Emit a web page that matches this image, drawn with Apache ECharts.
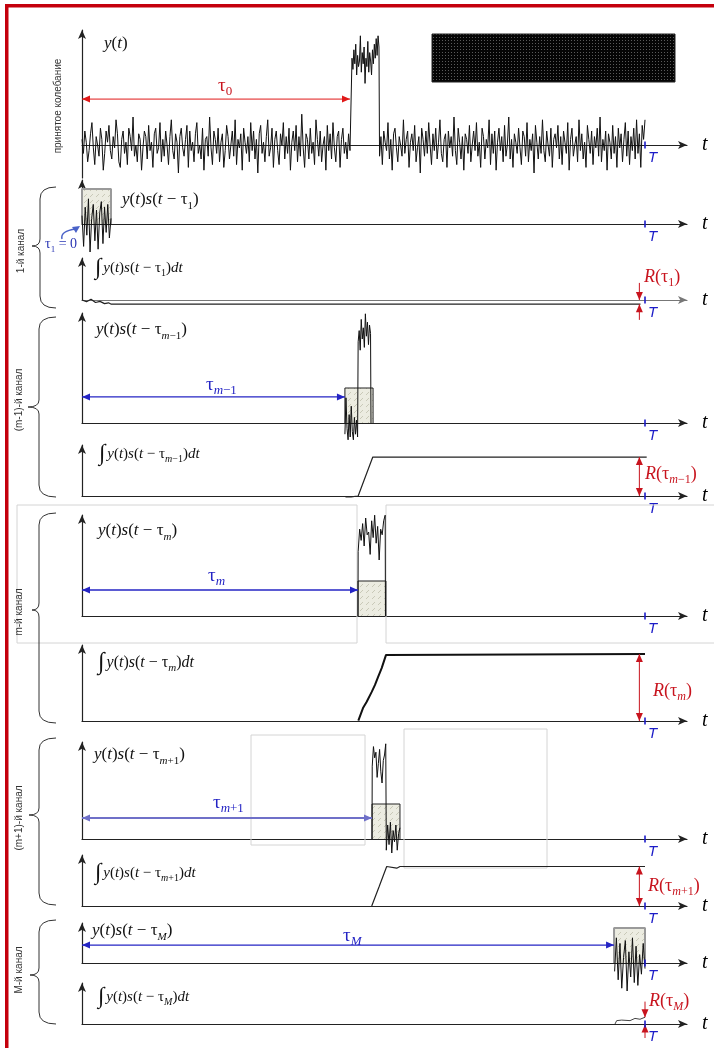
<!DOCTYPE html>
<html><head><meta charset="utf-8">
<script src="https://cdn.jsdelivr.net/npm/echarts@6/dist/echarts.min.js"></script>
<style>html,body{margin:0;padding:0;background:#fff}#c{width:714px;height:1048px}</style>
</head><body><div id="c"></div>
<script>
// ---------------- data ----------------
// received oscillation y(t): noise, signal pulse, noise
const topNoiseBefore = [0.2,-0.3,0.5,0.1,-0.6,-0.2,0.4,0.8,-0.1,-0.7,0.3,0.0,-0.4,0.6,0.2,-0.9,-0.3,0.5,0.1,0.7,
-0.2,-0.5,0.3,-0.1,0.9,0.4,-0.6,-0.8,0.2,0.5,-0.3,0.1,-0.7,0.6,0.3,-0.2,1.0,-0.4,0.0,-0.6,
0.4,0.2,-0.9,-0.1,0.5,0.3,-0.5,0.7,-0.2,0.1,-0.8,0.4,0.6,-0.3,-0.1,0.8,-0.6,0.2,-0.4,0.5,
0.0,-0.7,0.3,0.9,-0.2,-0.5,0.4,0.1,-1.0,0.3,0.6,-0.1,-0.4,0.2,0.7,-0.8,0.5,-0.2,0.1,-0.6,
0.4,0.8,-0.3,0.0,-0.5,0.6,-0.9,0.2,0.3,-0.4,1.0,-0.1,-0.7,0.5,0.2,-0.3,0.6,-0.6,0.1,0.4,
-0.8,-0.2,0.7,0.3,-0.5,0.0,0.5,-0.4,0.9,-0.7,0.2,-0.1,0.4,-0.9,0.6,0.1,-0.3,0.3,-0.6,0.8,
-0.2,0.5,-0.5,0.2,-1.0,0.4,0.7,-0.3,0.1,-0.6,0.3,0.9,-0.4,-0.1,0.6,-0.8,0.2,0.5,-0.2,-0.7,
0.4,0.0,0.8,-0.5,0.3,-0.3,0.6,-0.9,0.1,0.5,-0.2,0.7,-0.6,0.3,-0.4,1.1,-0.1,-0.8,0.4,0.2,
-0.5,0.6,-0.3,0.1,-0.7,0.9,0.2,-0.4,0.5,-0.6,0.0,0.3,-0.9,0.7,-0.2,0.4,-0.5,0.8,-0.1,-0.6,
0.3,0.5,-0.8,0.2,0.6,-0.3,0.1,-0.5,0.4,-0.2];
const topPulse = [3.1,2.7,3.4,2.9,3.6,2.5,3.2,2.8,3.0,3.9,2.6,3.3,2.9,3.5,2.2,3.1,2.8,3.7,2.6,3.3,3.0,2.5,3.4,2.9,3.6,3.1,3.8,3.2,3.9,3.5];
const topNoiseAfter = [-0.4,0.3,-0.7,0.5,0.1,-0.2,0.8,-0.5,0.2,-0.9,0.4,0.6,-0.1,-0.6,0.3,0.0,-0.4,0.9,-0.3,0.2,
0.5,-0.8,0.1,0.4,-0.2,0.7,-0.6,-0.1,0.3,-1.0,0.6,0.2,-0.4,0.5,-0.3,0.8,0.0,-0.7,0.4,-0.2,
0.6,-0.5,0.1,0.9,-0.3,-0.6,0.2,0.4,-0.8,0.5,-0.1,0.3,-0.4,1.0,-0.2,-0.7,0.6,0.1,-0.5,0.3,
-0.9,0.4,0.2,-0.3,0.7,-0.6,0.0,0.5,-0.2,0.8,-0.4,0.1,-0.8,0.6,0.3,-0.5,0.2,-0.1,0.9,-0.7,
0.4,-0.3,0.5,-0.9,0.1,0.6,-0.2,0.3,-0.6,0.7,-0.4,0.0,1.0,-0.5,0.2,-0.8,0.4,0.1,-0.3,0.6,
-0.1,-0.7,0.5,0.3,-0.4,0.8,-0.6,0.2,-0.2,0.4,-1.0,0.7,0.1,-0.5,0.3,-0.3,0.9,-0.2,-0.6,0.5,
0.0,-0.4,0.6,-0.8,0.2,0.4,-0.1,0.7,-0.5,0.3,-0.7,0.5,0.1,-0.3,0.8,-0.9,0.2,0.6,-0.4,0.0,
0.3,-0.6,0.9,-0.2,0.4,-0.5,0.1,-0.8,0.7,0.2,-0.3,0.5,-0.7,0.3,-0.1,0.6,-0.4,1.0,-0.6,0.2,
-0.2,0.5,-0.9,0.4,0.1,-0.5,0.7,-0.3,0.3,-0.8,0.6,-0.1,0.4,-0.6,0.2,0.8,-0.4,0.5,-0.7,0.3,
-0.2,0.6,-0.5,0.9,-0.3,0.4,-0.8,0.7,0.2,0.9];
// products y(t)s(t - tau) per channel
const ch1Product = [0.3,-0.8,0.6,-0.4,0.9,-1.0,0.2,0.7,-0.6,0.5,-0.9,0.4,0.8,-0.7,0.6,-0.3,0.7,-0.5,0.2];
const prevProductLow = [-0.4,0.9,-0.2,-0.6,0.3,-0.5,0.6,-0.3,-0.6,0.2,-0.4,0.1,-0.5];
const prevProductHigh = [2.9,3.3,2.6,3.7,3.0,3.4,2.7,3.9,3.1,3.6,2.8,3.5,3.2];
const curProductHigh = [2.3,3.1,2.7,3.3,2.5,3.5,2.9,3.0,2.2,3.4,2.8,3.6,2.6,3.2,2.0,3.1,2.9,3.4,3.6];
const nextProductHigh = [2.6,3.3,2.9,3.1,2.2,2.7,3.2,2.4,2.0,2.8,3.0,3.4];
const nextProductLow = [-0.4,0.5,-0.2,0.6,-0.5,0.3,-0.1,0.5,-0.4,0.2,0.4];
const lastProduct = [-0.3,0.9,-0.6,0.7,-0.9,0.2,0.8,-1.0,0.4,-0.5,0.9,-0.7,0.6,-0.8,0.3,-0.4,0.7,-0.2];
// integrals [t, value]
const ch1Integral = [[0,0],[0.008,-0.06],[0.016,0.03],[0.024,-0.09],[0.032,-0.05],[0.040,-0.13],[0.047,-0.1],[0.052,-0.15],[0.992,-0.15]];
const prevIntegral = [[0.468,-0.03],[0.478,-0.03],[0.4905,0],[0.5165,1.39],[1.003,1.39]];
const curIntegral = [[0.4908,0.01],[0.4991,0.46],[0.5057,0.69],[0.5146,1.04],[0.5204,1.29],[0.5258,1.57],[0.5323,1.89],[0.54,2.36],[1.0,2.39]];
const nextIntegral = [[0.5146,0],[0.5275,0.68],[0.5412,1.41],[0.559,1.35],[0.5648,1.41],[1.0,1.41]];
const lastIntegral = [[0.9467,0],[0.9497,0.12],[0.9586,0.14],[0.9734,0.12],[0.9822,0.2],[0.9911,0.17],[1.0,0.24]];
// delays / reference windows (t units, T = 1)
const tau0 = 0.476;
const pulseStart = 0.4796, pulseEnd = 0.5275;
const windowStart = [0, 0.467, 0.4902, 0.5151, 0.945];
const windowEnd = [0.0515, 0.517, 0.5399, 0.5648, 1.0];
const refLevel = 1.25;
const T_END = 1;

// ---------------- layout ----------------
const UNIT = 28;
const X_LEFT = 82, X_WIDTH = 605, T_PX = 563;
const XMAX = X_WIDTH / T_PX;
const panels = [
  {top:30, axis:145, bottom:178},
  {top:180, axis:224, bottom:224},
  {top:258, axis:300, bottom:300, axisColor:'#777'},
  {top:313, axis:423, bottom:423},
  {top:445, axis:496, bottom:496},
  {top:515, axis:616, bottom:616},
  {top:645, axis:721, bottom:721},
  {top:742, axis:839, bottom:839},
  {top:855, axis:906, bottom:906},
  {top:923, axis:963, bottom:963},
  {top:983, axis:1024, bottom:1024}
];
const BLUE = '#2424c4', RED = '#c8141e', TBLUE = '#1c1cc8';

const grid = [], xAxis = [], yAxis = [], series = [];
panels.forEach((p, i) => {
  grid.push({left:X_LEFT, width:X_WIDTH, top:p.top, height:p.bottom - p.top, outerBoundsMode:'none', containLabel:false});
  xAxis.push({
    gridIndex:i, type:'value', min:0, max:XMAX, interval:1,
    axisLine:{show:true, onZero:true, symbol:['none','arrow'], symbolSize:[6,9], lineStyle:{color:p.axisColor || '#222', width:1.2}},
    axisTick:{show:false}, splitLine:{show:false},
    axisLabel:{show:true, formatter:v => Math.abs(v - T_END) < 1e-9 ? 'T' : '', color:TBLUE,
      fontFamily:'Liberation Sans', fontStyle:'italic', fontSize:15, margin:5 - (p.bottom - p.axis), align:'left', padding:[0,0,0,3]},
    name:'t', nameLocation:'end', nameGap:15,
    nameTextStyle:{fontFamily:'Liberation Serif', fontStyle:'italic', fontSize:20, color:'#000', verticalAlign:'middle', padding:[0,0,8,0]}
  });
  yAxis.push({
    gridIndex:i, type:'value', min:-(p.bottom - p.axis) / UNIT, max:(p.axis - p.top) / UNIT,
    axisLine:{show:true, onZero:false, symbol:['none','arrow'], symbolSize:[6,9], lineStyle:{color:'#222', width:1.2}},
    axisTick:{show:false}, axisLabel:{show:false}, splitLine:{show:false}
  });
  // blue T tick
  series.push({type:'scatter', xAxisIndex:i, yAxisIndex:i, data:[[T_END,0]], symbol:'rect', symbolSize:[2,7],
    itemStyle:{color:TBLUE}, z:5, silent:true});
});

const seg = (t0, t1, vals) => vals.map((v, k) => [t0 + k * (t1 - t0) / (vals.length - 1), v]);

function trace(gi, data, color, width, z) {
  series.push({type:'line', xAxisIndex:gi, yAxisIndex:gi, data, symbol:'none', clip:false, silent:true,
    lineStyle:{color:color || '#111', width:width || 1}, z:z || 3});
}
function head(p, dir) {
  const s = {value:p, symbol:'triangle', symbolSize:[7,8]};
  if (dir === 'left') { s.symbolRotate = 90; s.symbolOffset = [4,0]; }
  if (dir === 'right') { s.symbolRotate = -90; s.symbolOffset = [-4,0]; }
  if (dir === 'up') { s.symbolRotate = 0; s.symbolOffset = [0,4]; }
  if (dir === 'down') { s.symbolRotate = 180; s.symbolOffset = [0,-4]; }
  return s;
}
function arrow(gi, p0, p1, color, both, width) {
  let d0, d1;
  if (p0[1] === p1[1]) { d1 = p1[0] > p0[0] ? 'right' : 'left'; d0 = d1 === 'right' ? 'left' : 'right'; }
  else { d1 = p1[1] > p0[1] ? 'up' : 'down'; d0 = d1 === 'up' ? 'down' : 'up'; }
  series.push({type:'line', xAxisIndex:gi, yAxisIndex:gi, clip:false, silent:true, symbol:'none',
    data:[both ? head(p0, d0) : {value:p0, symbol:'none'}, head(p1, d1)],
    lineStyle:{color, width:width || 1}, itemStyle:{color}, z:4});
}

// hatch pattern for reference pulse
const hatch = document.createElement('canvas'); hatch.width = hatch.height = 6;
(function(){ const g = hatch.getContext('2d'); g.fillStyle = '#ecece1'; g.fillRect(0,0,6,6);
  g.strokeStyle = '#c9c9b8'; g.lineWidth = 1; g.beginPath(); g.moveTo(0,5); g.lineTo(3,2); g.stroke(); })();
function refRect(gi, k, border, bw) {
  const s = windowStart[k], e = windowEnd[k];
  series.push({type:'line', xAxisIndex:gi, yAxisIndex:gi, clip:false, silent:true, symbol:'none',
    data:[[s,0],[s,refLevel],[e,refLevel],[e,0]],
    lineStyle:{color:border, width:bw}, areaStyle:{color:{image:hatch, repeat:'repeat'}, opacity:1}, z:2});
}

// panel 0: received oscillation
trace(0, [...seg(0, 0.476, topNoiseBefore), ...seg(pulseStart, pulseEnd, topPulse), ...seg(0.5285, 1.0, topNoiseAfter)], '#111', 1);
arrow(0, [0, 1.64], [tau0, 1.64], '#e01818', true, 1);

// channel 1
refRect(1, 0, '#9a9a9a', 2);
trace(1, seg(windowStart[0], windowEnd[0], ch1Product), '#111', 1);
trace(2, ch1Integral, '#222', 1.2);
const R1 = ch1Integral[ch1Integral.length - 1][1];
arrow(2, [0.99, 0.61], [0.99, 0], RED, false);
arrow(2, [0.99, -0.71], [0.99, R1], RED, false);

// channel m-1
refRect(3, 1, '#222', 1);
trace(3, [...seg(0.467, 0.4895, prevProductLow), ...seg(0.4905, 0.5125, prevProductHigh), [0.5133, 0]], '#111', 1);
arrow(3, [0, 0.93], [windowStart[1], 0.93], BLUE, true, 1.2);
trace(4, prevIntegral, '#222', 1.2);
arrow(4, [0.99, 0], [0.99, prevIntegral[prevIntegral.length - 1][1]], RED, true);

// channel m
refRect(5, 2, '#222', 1);
trace(5, [[windowStart[2], 0], ...seg(0.4905, 0.5385, curProductHigh), [0.539, 0]], '#111', 1);
arrow(5, [0, 0.93], [windowStart[2], 0.93], BLUE, true, 1.5);
trace(6, curIntegral, '#111', 2);
arrow(6, [0.99, 0], [0.99, curIntegral[curIntegral.length - 1][1]], RED, true);

// channel m+1
refRect(7, 3, '#222', 1);
trace(7, [[windowStart[3], 0], ...seg(0.5155, 0.5395, nextProductHigh), ...seg(0.5405, 0.5648, nextProductLow)], '#111', 1);
arrow(7, [0, 0.75], [windowStart[3], 0.75], '#6f70c8', true, 2);
trace(8, nextIntegral, '#222', 1.2);
arrow(8, [0.99, 0], [0.99, nextIntegral[nextIntegral.length - 1][1]], RED, true);

// channel M
refRect(9, 4, '#9a9a9a', 2);
trace(9, seg(0.946, windowEnd[4], lastProduct), '#111', 1);
arrow(9, [0, 0.64], [windowStart[4], 0.64], BLUE, true, 1.2);
trace(10, lastIntegral, '#444', 1);
const RM = lastIntegral[lastIntegral.length - 1][1];
arrow(10, [1.0, 0.8], [1.0, RM], RED, false);
arrow(10, [1.0, -0.5], [1.0, -0.02], RED, false);

// ---------------- annotations ----------------
function rich(S, color) {
  const sub = Math.round(S * 0.66);
  return {
    i:{fontFamily:'Liberation Serif', fontStyle:'italic', fontSize:S, fill:color, color, lineHeight:S + 6},
    r:{fontFamily:'Liberation Serif', fontSize:S, fill:color, color, lineHeight:S + 6},
    s:{fontFamily:'Liberation Serif', fontSize:sub, fill:color, color, verticalAlign:'bottom', lineHeight:sub + 1},
    si:{fontFamily:'Liberation Serif', fontStyle:'italic', fontSize:sub, fill:color, color, verticalAlign:'bottom', lineHeight:sub + 1},
    int:{fontFamily:'Liberation Serif', fontSize:Math.round(S * 1.5), fill:color, color, lineHeight:S + 6, padding:[0,2,0,0]}
  };
}
function ftext(x, y, text, S, color) {
  return {type:'text', x, y, z:10, silent:true, style:{text, rich:rich(S, color || '#111'), align:'left', verticalAlign:'middle'}};
}
const prod = sub => '{i|y}{r|(}{i|t}{r|)}{i|s}{r|(}{i|t}{r| − τ}' + sub + '{r|)}';
const integ = sub => '{int|∫}{i|y}{r|(}{i|t}{r|)}{i|s}{r|(}{i|t}{r| − τ}' + sub + '{r|)}{i|dt}';
const rlab = sub => '{i|R}{r|(τ}' + sub + '{r|)}';
function vlabel(x, y, text) {
  return {type:'text', x, y, rotation:Math.PI / 2, z:10, silent:true,
    style:{text, align:'center', verticalAlign:'middle', fontFamily:'Liberation Sans', fontSize:10, fill:'#333'}};
}
function brace(xEnd, yTop, yBot, xTip, yTip, xLine) {
  const st = {stroke:'#333', lineWidth:1, fill:'none'};
  const q = (x1, y1, cx, cy, x2, y2) => ({type:'bezierCurve', z:10, silent:true, shape:{x1, y1, cpx1:cx, cpy1:cy, x2, y2}, style:st});
  const l = (x1, y1, x2, y2) => ({type:'line', z:10, silent:true, shape:{x1, y1, x2, y2}, style:st});
  return [
    q(xEnd, yTop, xLine, yTop, xLine, yTop + 12),
    l(xLine, yTop + 12, xLine, yTip - 7),
    q(xLine, yTip - 7, xLine, yTip, xTip, yTip),
    q(xTip, yTip, xLine, yTip, xLine, yTip + 7),
    l(xLine, yTip + 7, xLine, yBot - 12),
    q(xLine, yBot - 12, xLine, yBot, xEnd, yBot)
  ];
}
const dots = document.createElement('canvas'); dots.width = dots.height = 3;
(function(){ const g = dots.getContext('2d'); g.fillStyle = '#050505'; g.fillRect(0,0,3,3); g.fillStyle = '#5a5a5a'; g.fillRect(1,1,1,1); })();

const graphic = [
  {type:'rect', z:20, silent:true, shape:{x:5, y:4, width:709, height:3.5}, style:{fill:'#c4000c'}},
  {type:'rect', z:20, silent:true, shape:{x:5, y:4, width:3.5, height:1044}, style:{fill:'#c4000c'}},
  {type:'rect', z:1, silent:true, shape:{x:432, y:34, width:243, height:48}, style:{fill:{image:dots, repeat:'repeat'}, stroke:'#222'}},
  {type:'rect', z:1, silent:true, shape:{x:17, y:505, width:340, height:138}, style:{fill:'none', stroke:'#d4d4d4', lineWidth:1}},
  {type:'rect', z:1, silent:true, shape:{x:386, y:505, width:330, height:138}, style:{fill:'none', stroke:'#d4d4d4', lineWidth:1}},
  {type:'rect', z:1, silent:true, shape:{x:251, y:735, width:114, height:110}, style:{fill:'none', stroke:'#d4d4d4', lineWidth:1}},
  {type:'rect', z:1, silent:true, shape:{x:404, y:729, width:143, height:139}, style:{fill:'none', stroke:'#d4d4d4', lineWidth:1}},
  vlabel(58, 106, 'принятое колебание'),
  vlabel(21, 251, '1-й канал'),
  vlabel(19, 400, '(m-1)-й канал'),
  vlabel(19, 612, 'm-й канал'),
  vlabel(19, 818, '(m+1)-й канал'),
  vlabel(19, 970, 'M-й канал'),
  ...brace(56, 187, 308, 32, 246, 40),
  ...brace(56, 317, 497, 28, 407, 39),
  ...brace(56, 513, 723, 32, 610, 39),
  ...brace(56, 738, 905, 29, 815, 39),
  ...brace(56, 920, 1024, 30, 975, 39),
  ftext(104, 44, '{i|y}{r|(}{i|t}{r|)}', 17),
  ftext(218, 86, '{r|τ}{s|0}', 19, '#c8141e'),
  ftext(122, 200, prod('{s|1}'), 17),
  ftext(45, 244, '{r|τ}{s|1}{r| = 0}', 14, '#2a36b4'),
  {type:'bezierCurve', z:10, silent:true, shape:{x1:62, y1:239, x2:76, y2:229, cpx1:60, cpy1:231}, style:{stroke:'#4a62c8', lineWidth:1.5, fill:'none'}},
  {type:'polygon', z:10, silent:true, shape:{points:[[80,226],[72,227],[76,233]]}, style:{fill:'#4a62c8'}},
  ftext(95, 268, integ('{s|1}'), 15),
  ftext(644, 277, rlab('{s|1}'), 18, RED),
  ftext(96, 330, prod('{si|m}{s|−1}'), 17),
  ftext(206, 385, '{r|τ}{si|m}{s|−1}', 19, BLUE),
  ftext(99, 454, integ('{si|m}{s|−1}'), 15),
  ftext(645, 474, rlab('{si|m}{s|−1}'), 18, RED),
  ftext(98, 531, prod('{si|m}'), 17),
  ftext(208, 576, '{r|τ}{si|m}', 19, BLUE),
  ftext(98, 663, integ('{si|m}'), 16),
  ftext(653, 691, rlab('{si|m}'), 18, RED),
  ftext(94, 755, prod('{si|m}{s|+1}'), 17),
  ftext(213, 803, '{r|τ}{si|m}{s|+1}', 19, BLUE),
  ftext(95, 873, integ('{si|m}{s|+1}'), 15),
  ftext(648, 886, rlab('{si|m}{s|+1}'), 18, RED),
  ftext(92, 931, prod('{si|M}'), 17),
  ftext(343, 936, '{r|τ}{si|M}', 19, BLUE),
  ftext(98, 997, integ('{si|M}'), 15),
  ftext(649, 1001, rlab('{si|M}'), 18, RED)
];

const chart = echarts.init(document.getElementById('c'), null, {renderer:'canvas'});
chart.setOption({animation:false, backgroundColor:'#fff', grid, xAxis, yAxis, series, graphic});
</script></body></html>
